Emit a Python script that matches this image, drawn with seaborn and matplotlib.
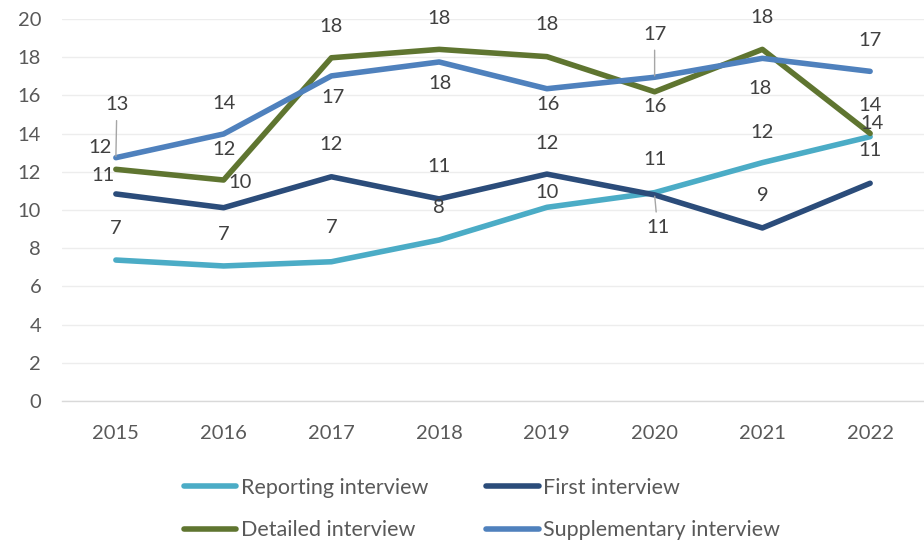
import pandas as pd
import matplotlib
matplotlib.use("Agg")
import matplotlib.pyplot as plt
import seaborn as sns

# values
years = ["2015", "2016", "2017", "2018", "2019", "2020", "2021", "2022"]
reporting = [7.38, 7.07, 7.29, 8.43, 10.14, 10.91, 12.48, 13.84]
first = [10.84, 10.12, 11.74, 10.58, 11.88, 10.79, 9.06, 11.40]
detailed = [12.13, 11.57, 17.97, 18.41, 18.03, 16.19, 18.41, 14.01]
supplementary = [12.74, 13.98, 17.02, 17.75, 16.35, 16.95, 17.94, 17.26]

names = ["Reporting interview", "First interview", "Detailed interview", "Supplementary interview"]
series = [reporting, first, detailed, supplementary]
colors = ["#4bacc6", "#2b4c7a", "#5f7530", "#4f81bd"]

# label offsets in pixels (dx, dy) per point, leader line flags
offsets = {
    "Reporting interview": [(0, 32), (0, 31), (0, 34), (0, 32), (0, 15), (0, 33), (0, 30), (2, 13)],
    "First interview": [(-13, 18), (16, 25), (0, 32), (0, 32), (0, 31), (3, -33), (0, 32), (0, 33)],
    "Detailed interview": [(-16, 22), (0, 31), (0, 31), (0, 31), (0, 32), (0, -15), (0, 32), (0, 28)],
    "Supplementary interview": [(1, 53), (0, 30), (2, -22), (1, -22), (1, -16), (0, 43), (-2, -30), (0, 31)],
}
leaders = {
    ("Supplementary interview", 0), ("Supplementary interview", 5), ("First interview", 5),
}

rows = []
for name, vals in zip(names, series):
    for i, v in enumerate(vals):
        rows.append({"year": i, "value": v, "series": name})
df = pd.DataFrame(rows)

sns.set_style("white")
plt.rcParams["font.family"] = ["Lato", "DejaVu Sans"]
fs = 14.5

fig = plt.figure(figsize=(9.24, 5.42), dpi=100)
ax = fig.add_axes([62 / 924, 141 / 542, 862 / 924, 382 / 542])

sns.lineplot(data=df, x="year", y="value", hue="series", hue_order=names,
             palette=colors, linewidth=4, ax=ax, legend=False)

ax.set_xlim(-0.5, 7.5)
ax.set_ylim(0, 20)
ax.set_yticks(range(0, 21, 2))
ax.set_xticks(range(len(years)))
ax.set_xticklabels(years)
ax.set_xticks([i - 0.5 for i in range(len(years) + 1)], minor=True)
ax.set_xlabel("")
ax.set_ylabel("")
ax.grid(axis="y", color="#ededed", linewidth=1)
ax.set_axisbelow(True)
for s in ["top", "right", "left"]:
    ax.spines[s].set_visible(False)
ax.spines["bottom"].set_color("#d9d9d9")
ax.spines["bottom"].set_linewidth(1)
ax.tick_params(axis="y", length=0, pad=15, labelsize=fs, labelcolor="#595959")
ax.tick_params(axis="x", which="major", length=0, pad=17, labelsize=fs, labelcolor="#595959")
ax.tick_params(axis="x", which="minor", length=6, width=1, color="#d9d9d9")

for name, vals in zip(names, series):
    for i, v in enumerate(vals):
        dx, dy = offsets[name][i]
        kw = {}
        if (name, i) in leaders:
            kw["arrowprops"] = dict(arrowstyle="-", color="#a6a6a6", lw=1, shrinkA=3, shrinkB=1)
        ax.annotate(f"{v:.0f}", xy=(i, v), xytext=(dx, dy), textcoords="offset pixels",
                    ha="center", va="center", fontsize=fs, color="#404040", **kw)

handles = [plt.Line2D([], [], color=c, linewidth=4, solid_capstyle="round") for c in colors]
order = [0, 2, 1, 3]
fig.legend([handles[k] for k in order], [names[k] for k in order], ncol=2,
           loc="center", bbox_to_anchor=(482 / 924, 1 - 509 / 542), frameon=False,
           fontsize=15.5, labelcolor="#595959", handlelength=2.45, handletextpad=0.2,
           columnspacing=2.7, labelspacing=1.05)

fig.savefig("out.png", dpi=100)
